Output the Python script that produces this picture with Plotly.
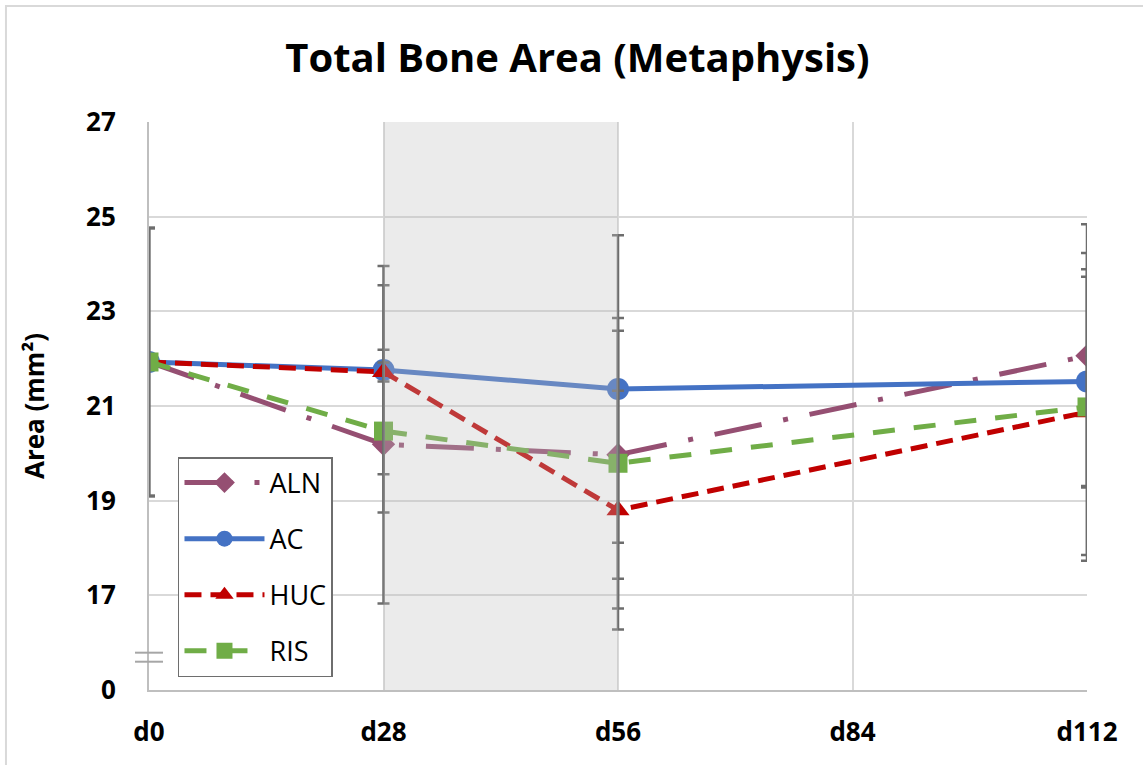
import plotly.graph_objects as go

# ---- data ----
day_ticks = [0, 28, 56, 84, 112]
day_labels = ["d0", "d28", "d56", "d84", "d112"]
days = [0, 28, 56, 112]

aln = [21.93, 20.19, 19.97, 22.06]
ac = [21.93, 21.76, 21.36, 21.52]
huc = [21.93, 21.72, 18.80, 20.87]
ris = [21.93, 20.47, 19.79, 20.98]

aln_err = [2.83, 3.36, 2.62, 2.78]
ac_err = [2.83, 2.20, 3.25, 2.21]
huc_err = [2.83, 0.20, 2.52, 3.02]
ris_err = [2.83, 1.72, 3.07, 3.25]

y_tick_values = [15, 17, 19, 21, 23, 25, 27]
y_tick_labels = ["0", "17", "19", "21", "23", "25", "27"]

shade_start, shade_end = 28, 56

series = [
    ("ALN", aln, aln_err, "#954F72", "diamond", 18),
    ("AC", ac, ac_err, "#4472C4", "circle", 22),
    ("HUC", huc, huc_err, "#C00000", "triangle-up", 20),
    ("RIS", ris, ris_err, "#70AD47", "square", 19),
]
dash_map = {
    "ALN": "48px,22px,5px,22px",
    "AC": "solid",
    "HUC": "17px,9px",
    "RIS": "22px,19px",
}

FONT = "Open Sans"
fig = go.Figure()

for name, vals, err, color, sym, size in series:
    fig.add_trace(go.Scatter(
        x=days, y=vals, name=name, mode="lines+markers",
        legendgroup=name,
        line=dict(color=color, width=5, dash=dash_map[name]),
        marker=dict(symbol=sym, size=size, color=color),
        hoverinfo="x+y",
    ))

for name, vals, err, color, sym, size in series:
    fig.add_trace(go.Scatter(
        x=days, y=vals, mode="markers", showlegend=False,
        marker=dict(size=1, opacity=0),
        error_y=dict(type="data", array=err, visible=True,
                     color="#6D6D6D", thickness=2.5, width=6),
        hoverinfo="skip",
    ))

# shaded period
fig.add_shape(type="rect", xref="x", yref="paper", x0=shade_start, x1=shade_end,
              y0=0, y1=1, fillcolor="rgba(190,190,190,0.30)", line=dict(width=0),
              layer="above")

# axis break marks
for yb in (0.0498, 0.0657):
    fig.add_shape(type="line", xref="paper", yref="paper",
                  x0=-0.0149, x1=0.0149, y0=yb, y1=yb,
                  line=dict(color="#A6A6A6", width=2))

# chart border
fig.add_shape(type="rect", xref="paper", yref="paper",
              x0=-0.1525, x1=1.2, y0=-0.3, y1=1.2042,
              line=dict(color="#D9D9D9", width=2), fillcolor="rgba(0,0,0,0)")

fig.update_layout(
    width=1143, height=765, autosize=False,
    margin=dict(l=149, r=56, t=122, b=75),
    paper_bgcolor="white", plot_bgcolor="white",
    title=dict(text="Total Bone Area (Metaphysis)", x=0.5052, xref="container",
               xanchor="center", y=0.9242, yref="container", yanchor="middle",
               font=dict(family=FONT, size=40, color="black", weight="bold")),
    xaxis=dict(range=[0, 112], tickvals=day_ticks, ticktext=day_labels,
               showline=True, linecolor="#BFBFBF", linewidth=2,
               showgrid=True, gridcolor="#D9D9D9", gridwidth=2, zeroline=False,
               ticks="", ticklabelstandoff=18,
               tickfont=dict(family=FONT, size=26, color="black", weight="bold")),
    yaxis=dict(range=[15, 27], tickvals=y_tick_values, ticktext=y_tick_labels,
               showline=True, linecolor="#BFBFBF", linewidth=2,
               showgrid=True, gridcolor="#D9D9D9", gridwidth=2, zeroline=False,
               ticks="", ticklabelstandoff=26,
               tickfont=dict(family=FONT, size=26, color="black", weight="bold"),
               title=dict(text="Area (mm²)", standoff=34,
                          font=dict(family=FONT, size=26, color="black", weight="bold"))),
    legend=dict(x=0.0309, y=0.4102, xanchor="left", yanchor="top",
                bgcolor="white", bordercolor="#6E6E6E", borderwidth=1.5,
                font=dict(family=FONT, size=27, color="black"),
                tracegroupgap=18, itemwidth=80, traceorder="grouped"),
    showlegend=True,
)

fig.write_html("out.html")
